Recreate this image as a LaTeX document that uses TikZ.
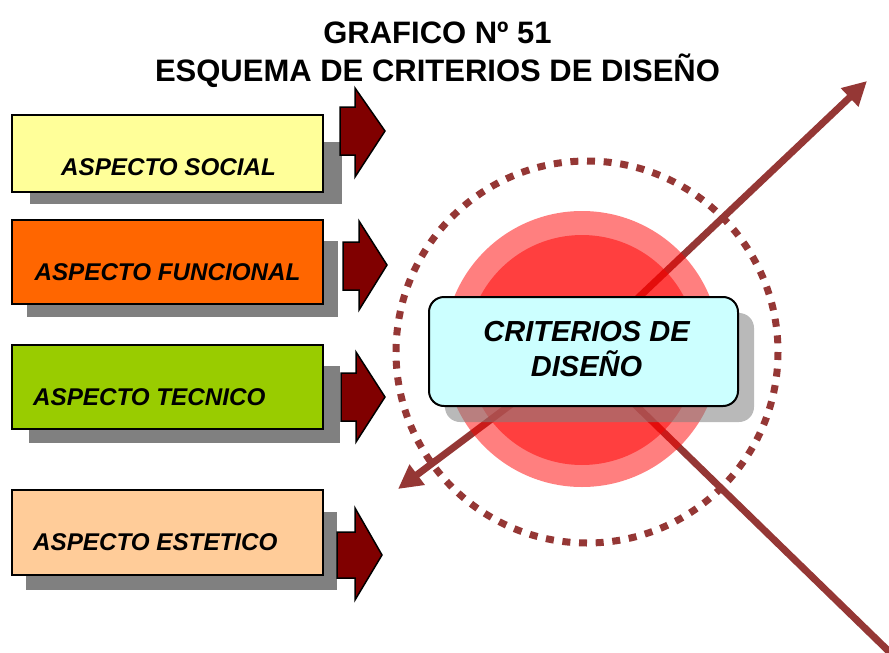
\documentclass[tikz,border=0pt]{standalone}
\usepackage{fontspec}
\setmainfont{Liberation Sans}
\usetikzlibrary{arrows.meta}
\definecolor{lineRed}{HTML}{953735}
\definecolor{maroonA}{HTML}{800000}
\definecolor{shadowGray}{HTML}{808080}
\definecolor{socialC}{HTML}{FFFF99}
\definecolor{funcC}{HTML}{FF6600}
\definecolor{tecC}{HTML}{99CC00}
\definecolor{estC}{HTML}{FFCC99}
\definecolor{critC}{HTML}{CCFFFF}
\begin{document}
\begin{tikzpicture}[x=1pt,y=-1pt,
  aspbox/.style={draw=black, line width=2pt, minimum width=311pt, minimum height=80pt, inner sep=0pt},
  asptext/.style={font=\fontsize{24.2}{28}\selectfont\bfseries\itshape, inner sep=0pt},
  titletext/.style={font=\fontsize{31}{36}\selectfont\bfseries, inner sep=0pt},
  crittext/.style={font=\fontsize{29}{35}\selectfont\bfseries\itshape, inner sep=0pt},
  shadowbox/.style={fill=shadowGray},
  blockarrow/.style={fill=maroonA, draw=black, line width=1.5pt, line join=miter},
  diag/.style={draw=lineRed, line width=7pt, -{Triangle[length=24pt,width=24pt]}},
  halo/.style={fill=red, fill opacity=0.5}
]
\useasboundingbox (0,0) rectangle (889,653);
\clip (0,0) rectangle (889,653);
\fill[white] (0,0) rectangle (889,653);

% title
\node[titletext, anchor=base] (t1) at (437.5,43) {GRAFICO Nº 51};
\node[titletext, anchor=base] (t2) at (437.5,81) {ESQUEMA DE CRITERIOS DE DISEÑO};

% diagonal arrows
\coordinate (c) at (581,352);
\coordinate (e1) at (867,81);
\coordinate (e2) at (398,489);
\coordinate (e3) at (908,670);
\draw[diag] (c) -- (e1);
\draw[diag] (c) -- (e2);
\draw[diag] (c) -- (e3);

% circles
\fill[halo] (582,349) circle[radius=138];
\fill[halo] (582,350) circle[radius=115];
\draw[lineRed, line width=7pt, dash pattern=on 8pt off 8.67pt] (587,352) circle[radius=191];

% main box
\fill[shadowGray, fill opacity=0.55, rounded corners=15pt] (445,313) rectangle (754,422);
\node[draw=black, line width=2pt, fill=critC, rounded corners=15pt, minimum width=309pt, minimum height=109pt, inner sep=0pt] (crit) at (583.5,351.5) {};
\node[crittext, anchor=base] (crit1) at (586.5,341) {CRITERIOS DE};
\node[crittext, anchor=base] (crit2) at (586.5,376) {DISEÑO};

% box 1
\fill[shadowbox] (30,142) rectangle (342,204);
\node[aspbox, fill=socialC, minimum height=77pt] (b1) at (167.5,153.5) {};
\node[asptext, anchor=base] (b1t) at (168.5,175.5) {ASPECTO SOCIAL};
\draw[blockarrow] (340,107) -- (355,107) -- (355,88) -- (385,131) -- (355,177) -- (355,155) -- (340,155) -- cycle;

% box 2
\fill[shadowbox] (27,241) rectangle (338,317);
\node[aspbox, fill=funcC, minimum height=84pt] (b2) at (167.5,262) {};
\node[asptext, anchor=base] (b2t) at (167.5,280.5) {ASPECTO FUNCIONAL};
\draw[blockarrow] (343,242) -- (359,242) -- (359,221) -- (387,265) -- (359,310) -- (359,290) -- (343,290) -- cycle;

% box 3
\fill[shadowbox] (29,366) rectangle (340,443);
\node[aspbox, fill=tecC, minimum height=84pt] (b3) at (167.5,387) {};
\node[asptext, anchor=base west] (b3t) at (33,405.5) {ASPECTO TECNICO};
\draw[blockarrow] (341,373) -- (356,373) -- (356,352) -- (385,397) -- (356,442) -- (356,421) -- (341,421) -- cycle;

% box 4
\fill[shadowbox] (26,512) rectangle (337,590);
\node[aspbox, fill=estC, minimum height=85pt] (b4) at (167.5,532.5) {};
\node[asptext, anchor=base west] (b4t) at (33,550.5) {ASPECTO ESTETICO};
\draw[blockarrow] (337,532) -- (355,532) -- (355,508) -- (382,555) -- (355,600) -- (355,578) -- (337,578) -- cycle;
\end{tikzpicture}
\end{document}
